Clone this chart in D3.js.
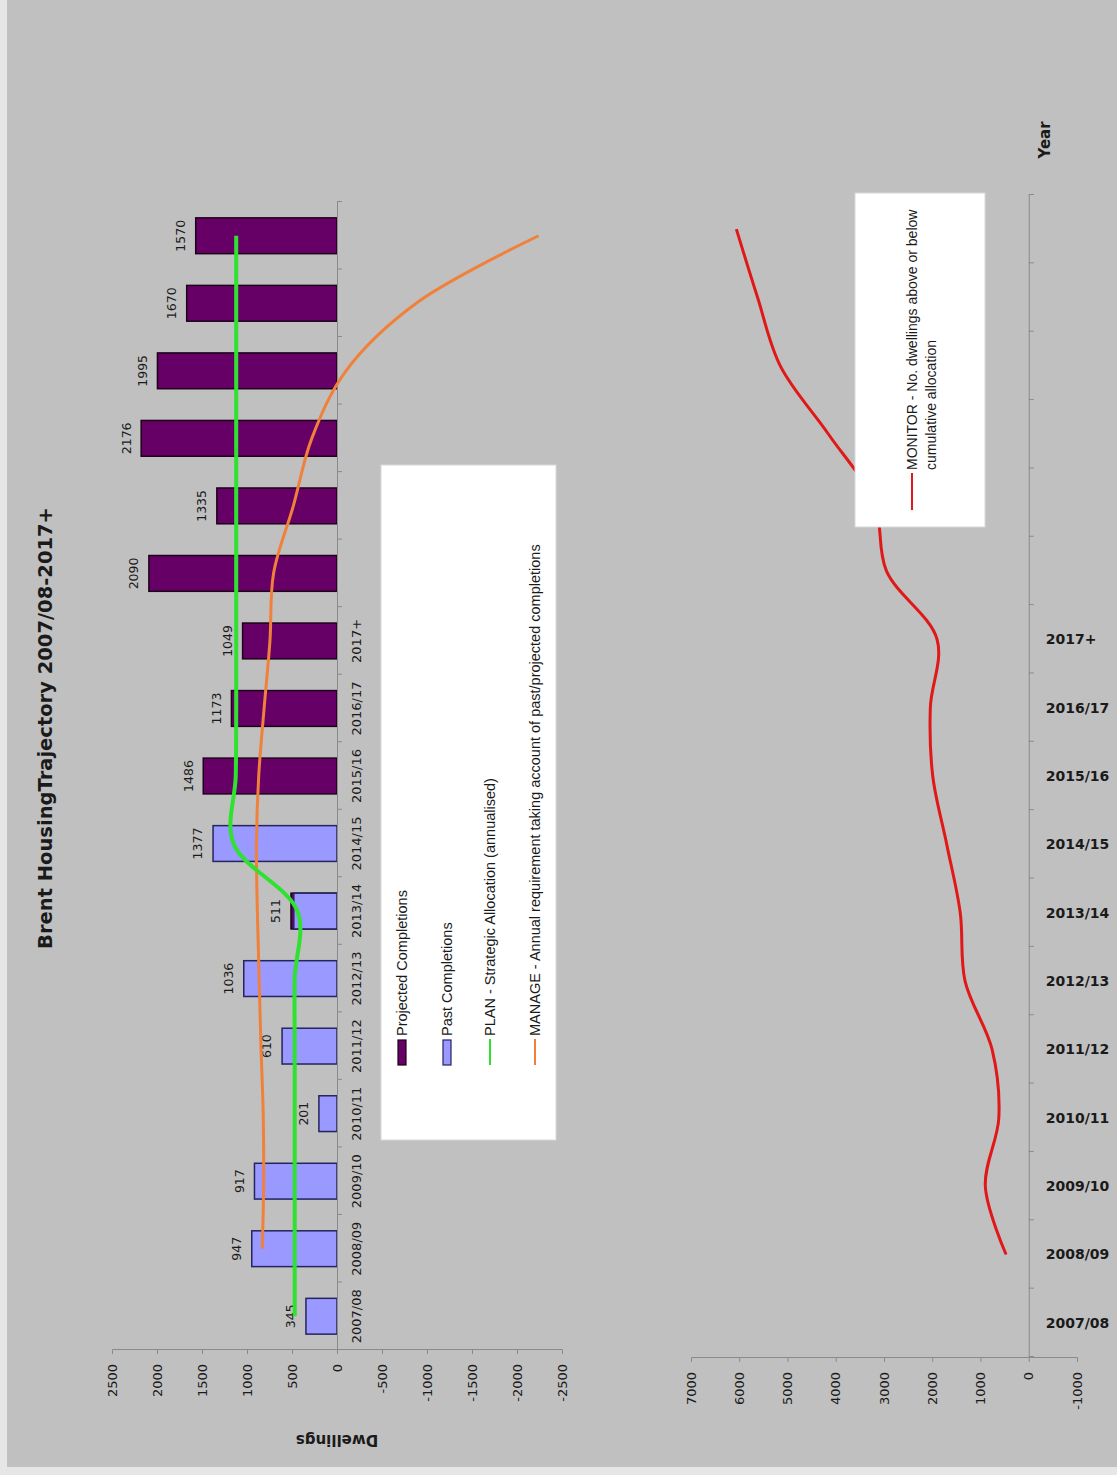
<!DOCTYPE html>
<html>
<head>
<meta charset="utf-8">
<script src="https://cdn.jsdelivr.net/npm/d3@7"></script>
<style>
  body { margin: 0; background: #e6e6e6; }
  text { font-family: "DejaVu Sans", sans-serif; fill: #1a1a1a; }
</style>
</head>
<body>
<div id="chart"></div>
<script>
const W = 1117;
const H = 1475;

// data
const categories = ["2007/08", "2008/09", "2009/10", "2010/11", "2011/12", "2012/13",
  "2013/14", "2014/15", "2015/16", "2016/17", "2017+", "", "", "", "", "", ""];
const past = [345, 947, 917, 201, 610, 1036, 480, 1377, null, null, null, null, null, null, null, null, null];
const projected = [null, null, null, null, null, null, 511, null, 1486, 1173, 1049, 2090, 1335, 2176, 1995, 1670, 1570];
const barLabels = [345, 947, 917, 201, 610, 1036, 511, 1377, 1486, 1173, 1049, 2090, 1335, 2176, 1995, 1670, 1570];
const plan = [470, 470, 470, 470, 470, 470, 440, 1150, 1125, 1120, 1120, 1120, 1120, 1120, 1120, 1120, 1120];
const manage = [null, 830, 815, 820, 845, 865, 885, 895, 870, 810, 745, 705, 485, 280, -100, -880, -2240];
const monitor = [null, 470, 900, 620, 760, 1320, 1420, 1700, 1990, 2040, 1900, 2950, 3200, 4150, 5150, 5620, 6060];
const dwellingTicks = [2500, 2000, 1500, 1000, 500, 0, -500, -1000, -1500, -2000, -2500];
const monitorTicks = [7000, 6000, 5000, 4000, 3000, 2000, 1000, 0, -1000];

const PURPLE = "#660066";
const LAVENDER = "#9999ff";
const GREEN = "#2fe22f";
const ORANGE = "#f0803a";
const RED = "#e01818";
const AXIS = "#8a8a8a";
const LEGEND_FONT = "Liberation Sans, Arial, sans-serif";

const svg = d3.select("#chart").append("svg")
  .attr("width", W)
  .attr("height", H);

svg.append("rect").attr("width", W).attr("height", H).attr("fill", "#e6e6e6");
svg.append("rect").attr("x", 7).attr("y", 0).attr("width", W - 7).attr("height", H - 8).attr("fill", "#c0c0c0");

// the chart was drawn landscape and turned a quarter to the left
const g = svg.append("g").attr("transform", `translate(0,${H}) rotate(-90)`);

g.append("text")
  .attr("x", 747).attr("y", 45)
  .attr("text-anchor", "middle").attr("dy", "0.35em")
  .style("font-size", "19.5px").style("font-weight", "bold")
  .text("Brent HousingTrajectory 2007/08-2017+");

// ---------- top chart ----------
const x1 = d3.scaleBand().domain(d3.range(categories.length)).range([125, 1273])
  .paddingInner(0.47).paddingOuter(0.235);
const y1 = d3.scaleLinear().domain([-2500, 2500]).range([562, 112]);
const bw = x1.bandwidth();
const cx1 = i => x1(i) + bw / 2;

// value axis
const yAxis1 = g.append("g").attr("transform", "translate(125,0)")
  .call(d3.axisLeft(y1).tickValues(dwellingTicks).tickSize(4).tickPadding(10).tickFormat(d => String(d)));
yAxis1.selectAll("text").style("font-size", "13px");

g.append("text")
  .attr("transform", `translate(35,${y1(0)}) rotate(-90)`)
  .attr("text-anchor", "middle").attr("dy", "0.35em")
  .style("font-size", "15px").style("font-weight", "bold")
  .text("Dwellings");

// bars: projected behind, past in front
g.append("g").selectAll("rect")
  .data(projected.map((v, i) => ({ v, i })).filter(d => d.v != null))
  .join("rect")
  .attr("x", d => x1(d.i)).attr("width", bw)
  .attr("y", d => y1(d.v)).attr("height", d => y1(0) - y1(d.v))
  .attr("fill", PURPLE).attr("stroke", "#1c0018").attr("stroke-width", 1.5);

g.append("g").selectAll("rect")
  .data(past.map((v, i) => ({ v, i })).filter(d => d.v != null))
  .join("rect")
  .attr("x", d => x1(d.i)).attr("width", bw)
  .attr("y", d => y1(d.v)).attr("height", d => y1(0) - y1(d.v))
  .attr("fill", LAVENDER).attr("stroke", "#24245e").attr("stroke-width", 1.5);

g.append("g").selectAll("text")
  .data(barLabels)
  .join("text")
  .attr("x", (d, i) => cx1(i)).attr("y", d => y1(d) - 15)
  .attr("text-anchor", "middle").attr("dy", "0.35em")
  .style("font-size", "12.5px")
  .text(d => d);

// category axis on the zero line
const slots1 = d3.scaleLinear().domain([0, categories.length]).range([125, 1273]);
g.append("g").attr("transform", `translate(0,${y1(0)})`)
  .call(d3.axisBottom(slots1).tickValues(d3.range(categories.length + 1)).tickSize(5).tickFormat(""));
const xAxis1 = g.append("g").attr("transform", `translate(0,${y1(0)})`)
  .call(d3.axisBottom(x1).tickSize(0).tickPadding(19).tickFormat(i => categories[i]));
xAxis1.select(".domain").remove();
xAxis1.selectAll("text").attr("dy", "0.35em").style("font-size", "13px");

// lines
const line1 = d3.line()
  .defined(d => d != null)
  .x((d, i) => cx1(i))
  .y(d => y1(d))
  .curve(d3.curveCatmullRom);

g.append("path").attr("d", line1(manage))
  .attr("fill", "none").attr("stroke", ORANGE).attr("stroke-width", 3);
g.append("path").attr("d", line1(plan))
  .attr("fill", "none").attr("stroke", GREEN).attr("stroke-width", 4);

// legend of the top chart
const leg1 = g.append("g");
leg1.append("rect").attr("x", 335).attr("y", 381).attr("width", 675).attr("height", 175)
  .attr("fill", "#ffffff").attr("stroke", "#d8d8d8");
const legItems = [
  { label: "Projected Completions", kind: "bar", color: PURPLE, edge: "#1c0018", y: 402 },
  { label: "Past Completions", kind: "bar", color: LAVENDER, edge: "#24245e", y: 447 },
  { label: "PLAN - Strategic Allocation (annualised)", kind: "line", color: GREEN, y: 490 },
  { label: "MANAGE - Annual requirement taking account of past/projected completions", kind: "line", color: ORANGE, y: 535 }
];
legItems.forEach(d => {
  if (d.kind === "bar") {
    leg1.append("rect").attr("x", 410).attr("y", d.y - 4).attr("width", 25).attr("height", 8)
      .attr("fill", d.color).attr("stroke", d.edge).attr("stroke-width", 1.2);
  } else {
    leg1.append("line").attr("x1", 410).attr("x2", 436).attr("y1", d.y).attr("y2", d.y)
      .attr("stroke", d.color).attr("stroke-width", 2);
  }
  leg1.append("text").attr("x", 439).attr("y", d.y).attr("dy", "0.35em")
    .style("font-size", "14.5px").style("font-family", LEGEND_FONT)
    .text(d.label);
});

// ---------- bottom chart ----------
const x2 = d3.scaleBand().domain(d3.range(categories.length)).range([118, 1280]);
const y2 = d3.scaleLinear().domain([-1000, 7000]).range([1077, 691]);
const cx2 = i => x2(i) + x2.bandwidth() / 2;

const yAxis2 = g.append("g").attr("transform", "translate(117,0)")
  .call(d3.axisLeft(y2).tickValues(monitorTicks).tickSize(4).tickPadding(10).tickFormat(d => String(d)));
yAxis2.selectAll("text").style("font-size", "13px");

const slots2 = d3.scaleLinear().domain([0, categories.length]).range([118, 1280]);
g.append("g").attr("transform", `translate(0,${y2(0)})`)
  .call(d3.axisBottom(slots2).tickValues(d3.range(categories.length + 1)).tickSize(5).tickFormat(""));
const xAxis2 = g.append("g").attr("transform", `translate(0,${y2(0)})`)
  .call(d3.axisBottom(x2).tickSize(0).tickFormat(i => categories[i]));
xAxis2.select(".domain").remove();
xAxis2.selectAll("text")
  .attr("transform", "rotate(90)")
  .attr("x", 17).attr("y", 0).attr("dy", "0.35em")
  .style("text-anchor", "start")
  .style("font-size", "14px").style("font-weight", "bold");

g.append("text")
  .attr("x", 1335).attr("y", 1045)
  .attr("text-anchor", "middle").attr("dy", "0.35em")
  .style("font-size", "15px").style("font-weight", "bold")
  .text("Year");

const line2 = d3.line()
  .defined(d => d != null)
  .x((d, i) => cx2(i))
  .y(d => y2(d))
  .curve(d3.curveCatmullRom);

g.append("path").attr("d", line2(monitor))
  .attr("fill", "none").attr("stroke", RED).attr("stroke-width", 3);

const leg2 = g.append("g");
leg2.append("rect").attr("x", 948).attr("y", 855).attr("width", 334).attr("height", 130)
  .attr("fill", "#ffffff").attr("stroke", "#d8d8d8");
leg2.append("line").attr("x1", 965).attr("x2", 1002).attr("y1", 912).attr("y2", 912)
  .attr("stroke", RED).attr("stroke-width", 2);
leg2.append("text").attr("x", 1005).attr("y", 912).attr("dy", "0.35em")
  .style("font-size", "14px").style("font-family", LEGEND_FONT)
  .text("MONITOR - No. dwellings above or below");
leg2.append("text").attr("x", 1005).attr("y", 931).attr("dy", "0.35em")
  .style("font-size", "14px").style("font-family", LEGEND_FONT)
  .text("cumulative allocation");

g.selectAll(".domain, .tick line").attr("stroke", AXIS);
</script>
</body>
</html>
